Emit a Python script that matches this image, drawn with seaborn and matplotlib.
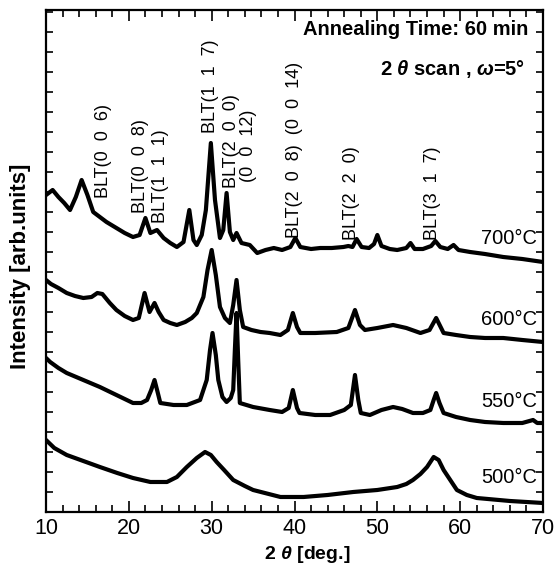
import matplotlib
matplotlib.use("Agg")
import matplotlib.pyplot as plt
from matplotlib.ticker import MultipleLocator
import seaborn as sns
import pandas as pd

# XRD scans of BLT films (intensity in arb. units)
tt_700 = [10.0, 10.8, 11.5, 12.2, 12.9, 13.6, 14.3, 15.0, 15.7, 16.5, 17.3, 18.5, 19.5, 20.5,
          21.3, 22.0, 22.6, 23.4, 24.2, 25.0, 25.8, 26.6, 27.3, 27.8, 28.2, 28.8, 29.3, 29.9,
          30.4, 31.0, 31.4, 31.8, 32.2, 32.6, 33.0, 33.6, 34.6, 35.5, 36.5, 37.5, 38.5, 39.5,
          40.1, 40.7, 42.0, 43.1, 44.5, 45.9, 46.5, 47.0, 47.5, 48.1, 49.0, 49.6, 50.0, 50.5,
          51.5, 52.4, 53.5, 54.0, 54.5, 55.5, 56.5, 57.0, 57.6, 58.5, 59.2, 59.8, 61.2, 63.0,
          65.2, 67.5, 70.0]
i_700 = [317, 322, 315, 309, 302, 315, 332, 317, 300, 295, 290, 284, 279, 275,
         277, 294, 279, 282, 274, 269, 265, 270, 302, 272, 267, 277, 302, 369,
         312, 274, 282, 319, 280, 272, 279, 269, 267, 259, 262, 264, 262, 265,
         274, 265, 263, 264, 264, 265, 266, 265, 273, 265, 264, 268, 277, 266,
         263, 262, 264, 269, 263, 263, 266, 271, 265, 263, 267, 262, 260, 258,
         255, 253, 250]

tt_600 = [10.0, 10.6, 11.5, 12.5, 13.5, 14.5, 15.5, 16.2, 16.8, 17.7, 18.5, 19.5, 20.5, 21.2,
          21.9, 22.5, 23.1, 23.6, 24.2, 25.0, 25.8, 26.8, 27.6, 28.2, 29.0, 29.5, 30.0, 30.5,
          31.0, 31.6, 32.2, 32.6, 33.0, 33.4, 33.8, 34.8, 35.9, 37.0, 38.3, 39.2, 39.8, 40.3,
          40.7, 42.5, 45.1, 46.5, 47.3, 47.9, 48.5, 50.0, 51.9, 53.5, 55.2, 56.3, 57.1, 57.7,
          58.0, 59.5, 61.2, 63.0, 65.2, 67.5, 70.0]
i_600 = [232, 228, 224, 219, 216, 214, 215, 219, 218, 209, 202, 196, 192, 194,
         219, 200, 209, 200, 192, 189, 187, 190, 194, 199, 215, 242, 262, 237,
         205, 194, 189, 207, 232, 202, 185, 182, 180, 179, 177, 182, 199, 185,
         179, 179, 180, 184, 202, 187, 182, 184, 187, 184, 179, 182, 194, 184,
         179, 177, 175, 174, 174, 172, 170]

tt_550 = [10.0, 10.5, 11.5, 12.5, 14.5, 16.5, 18.5, 20.5, 21.5, 22.2, 22.7, 23.1, 23.5, 23.8,
          25.4, 27.0, 28.6, 29.4, 29.8, 30.1, 30.5, 30.8, 31.3, 31.8, 32.3, 32.6, 32.8, 33.0,
          33.2, 33.4, 35.0, 37.0, 38.5, 39.3, 39.8, 40.3, 40.6, 42.5, 44.3, 46.0, 46.8, 47.3,
          47.7, 48.0, 49.1, 50.5, 51.9, 53.0, 54.3, 55.5, 56.4, 56.8, 57.1, 57.5, 58.0, 59.5,
          61.2, 63.0, 65.2, 67.5, 68.8, 69.3, 70.0]
i_550 = [154, 150, 144, 139, 132, 125, 117, 109, 109, 112, 122, 132, 119, 109,
         107, 107, 112, 132, 162, 179, 157, 132, 115, 110, 114, 122, 162, 199,
         152, 109, 105, 102, 100, 104, 122, 104, 99, 97, 97, 102, 107, 137,
         112, 99, 97, 102, 105, 103, 99, 99, 102, 112, 119, 109, 99, 95,
         92, 90, 89, 89, 92, 89, 89]

tt_500 = [10.0, 11.0, 12.5, 14.5, 16.5, 18.6, 20.5, 22.6, 24.6, 25.8, 27.0, 28.2, 29.2, 29.9,
          30.6, 31.5, 32.6, 34.0, 35.0, 38.3, 41.1, 44.0, 47.1, 50.0, 52.4, 53.5, 54.3, 55.2,
          56.0, 56.8, 57.4, 58.0, 58.8, 59.6, 60.8, 62.0, 66.0, 70.0]
i_500 = [72, 64, 57, 51, 45, 39, 34, 30, 30, 35, 45, 54, 60, 57,
         50, 42, 32, 26, 22, 15, 15, 17, 20, 22, 25, 28, 32, 38,
         45, 55, 52, 42, 32, 22, 17, 14, 11, 9]

temps = ["700°C", "600°C", "550°C", "500°C"]
temp_label_y = [274, 192, 110, 34]

peak_labels = ["BLT(0  0  6)", "BLT(0  0  8)", "BLT(1  1  1)", "BLT(1  1  7)", "BLT(2  0  0)",
               "(0  0  12)", "BLT(2  0  8)  (0  0  14)", "BLT(2  2  0)", "BLT(3  1  7)"]
peak_label_x = [16.9, 21.35, 23.8, 29.8, 32.45, 34.5, 40.05, 46.9, 56.7]
peak_label_y = [314, 299, 289, 379, 324, 330, 274, 272, 272]

frames = []
for name, tt, inten in zip(temps, [tt_700, tt_600, tt_550, tt_500],
                           [i_700, i_600, i_550, i_500]):
    frames.append(pd.DataFrame({"two_theta": tt, "intensity": inten, "temp": name}))
df = pd.concat(frames, ignore_index=True)

sns.set_style("ticks")
plt.rcParams["font.family"] = ["Liberation Sans", "DejaVu Sans"]
plt.rcParams["mathtext.fontset"] = "custom"
plt.rcParams["mathtext.rm"] = "Liberation Sans:bold"
plt.rcParams["mathtext.it"] = "Liberation Sans:italic:bold"
plt.rcParams["mathtext.bf"] = "Liberation Sans:bold"
plt.rcParams["text.color"] = "black"
plt.rcParams["axes.labelcolor"] = "black"
plt.rcParams["xtick.color"] = "black"
plt.rcParams["ytick.color"] = "black"

fig = plt.figure(figsize=(5.55, 5.69), dpi=100)
ax = fig.add_axes([0.0829, 0.1002, 0.8955, 0.8822])

sns.lineplot(data=df, x="two_theta", y="intensity", units="temp", estimator=None,
             sort=False, color="black", lw=3.0, ax=ax)

ax.set_xlim(10, 70)
ax.set_ylim(0, 502)
ax.xaxis.set_major_locator(MultipleLocator(10))
ax.xaxis.set_minor_locator(MultipleLocator(2))
ax.yaxis.set_major_locator(MultipleLocator(20))
ax.set_yticklabels([])
ax.tick_params(which="both", direction="in", top=True, right=True, width=1.2,
               color="black", labelcolor="black")
ax.tick_params(axis="x", which="major", length=8, labelsize=15.5, pad=4)
ax.tick_params(axis="x", which="minor", length=5)
ax.tick_params(axis="y", which="major", length=5)
for s in ax.spines.values():
    s.set_linewidth(1.6)
    s.set_color("black")

ax.set_xlabel("2 $\\theta$ [deg.]", fontsize=14, fontweight="bold")
ax.set_ylabel("Intensity [arb.units]", fontsize=16, fontweight="bold")
ax.xaxis.set_label_coords(0.526, -0.064)
ax.yaxis.set_label_coords(-0.03, 0.49)

ax.text(68.2, 477, "Annealing Time: 60 min", fontsize=14.5, fontweight="bold",
        ha="right", va="baseline")
ax.text(67.8, 437, "2 $\\theta$ scan , $\\omega$=5°", fontsize=14.5, fontweight="bold",
        ha="right", va="baseline")

for lab, x, y in zip(peak_labels, peak_label_x, peak_label_y):
    ax.text(x, y, lab, rotation=90, ha="center", va="bottom", fontsize=13)

for lab, y in zip(temps, temp_label_y):
    ax.text(69.3, y, lab, ha="right", va="center", fontsize=14.5)

fig.savefig("out.png", dpi=100)
